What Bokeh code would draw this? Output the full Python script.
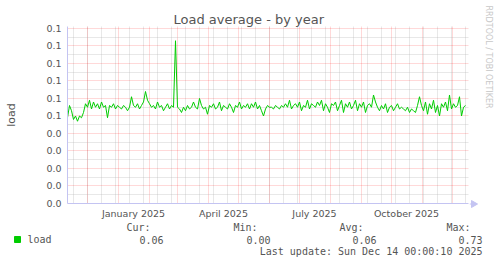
import math
import pandas as pd
from bokeh.plotting import figure
from bokeh.layouts import column, row
from bokeh.models import Range1d, FixedTicker
from bokeh.core.properties import value
from bokeh.embed import file_html
from bokeh.resources import INLINE

# ---------------- data ----------------
start_date = "2024-11-11"
# load average samples every 2 days, in thousandths
load_milli = [
    49, 56, 53, 48, 50, 47, 50, 49, 52,
    57, 55, 59, 54, 58,
    55, 57, 54, 58, 55, 56, 49, 56, 55, 57, 54, 56, 55, 54, 56, 55, 53, 55,
    61,
    56, 55, 57, 54, 56, 58,
    64, 59,
    57, 55, 56, 54, 58, 55, 56, 53, 55, 57, 54, 56, 55,
    93, 55,
    54, 52, 55, 53, 56, 54, 55, 58, 55, 54, 60,
    56, 54, 55, 51, 56, 55, 57, 54, 55, 58, 53, 56, 55, 54, 57, 55, 52, 56, 55, 58, 54, 56, 55, 57, 54,
    57, 55, 58, 54, 56, 53, 50,
    54, 56, 55, 55, 54, 56, 55, 54, 56, 55,
    57, 55, 59, 54, 56, 57, 55, 58, 53, 56, 55, 59, 54, 57, 56, 55, 58,
    56, 59, 53, 57, 55, 52, 57, 56,
    58, 53, 56, 59, 52, 57, 55, 58, 54, 56, 59, 53, 57, 55, 58, 52, 56, 57, 55,
    62,
    58, 55, 53, 56, 54, 57, 52, 55, 56, 53, 55, 57, 54, 55,
    54, 53, 55, 52, 54, 53, 52,
    56, 61,
    56, 53, 58, 51, 57, 54, 59, 52, 56, 50, 57, 55, 58, 53, 62, 54, 57, 55, 56, 61, 50, 55, 56,
]
dates = pd.date_range(start_date, periods=len(load_milli), freq="2D")
load = [v / 1000 for v in load_milli]

y_ticks = [0.00, 0.01, 0.02, 0.03, 0.04, 0.05, 0.06, 0.07, 0.08, 0.09, 0.10]
y_tick_labels = ["0.0", "0.0", "0.0", "0.0", "0.0", "0.1", "0.1", "0.1", "0.1", "0.1", "0.1"]
y_minor = [0.005, 0.015, 0.025, 0.035, 0.045, 0.055, 0.065, 0.075, 0.085, 0.095]

x_label_dates = ["2025-01-16", "2025-04-16", "2025-07-16", "2025-10-16"]
x_tick_labels = ["January 2025", "April 2025", "July 2025", "October 2025"]

stat_names = ["Cur:", "Min:", "Avg:", "Max:"]
stat_values = ["0.06", "0.00", "0.06", "0.73"]
series_name = "load"
last_update = "Last update: Sun Dec 14 00:00:10 2025"
title_text = "Load average - by year"
y_axis_title = "load"
watermark = "RRDTOOL / TOBI OETIKER"


def ms(d):
    return pd.Timestamp(d).value / 1e6


x_start = ms("2024-11-11")
x_end = ms("2025-12-17")
y_top = 0.10114

month_starts = [ms(d) for d in pd.date_range("2024-12-01", "2025-12-01", freq="MS")]
biweekly = [ms(d) for d in pd.date_range("2024-11-17", "2025-12-17", freq="14D")]

TXT = "#555555"
AXIS = "#c4c4f2"
GREEN = "#00cc00"

p = figure(width=469, height=222, x_axis_type="datetime",
           x_range=Range1d(x_start, x_end), y_range=Range1d(0, y_top),
           output_backend="svg", toolbar_location=None,
           min_border_left=67, min_border_right=1, min_border_top=26, min_border_bottom=19)
p.outline_line_color = None
p.background_fill_color = "white"
p.border_fill_color = "white"
p.frame_align = False

p.title.text = title_text
p.title.align = "left"
p.title.offset = 106
p.title.text_font = "DejaVu Sans"
p.title.text_font_size = "13px"
p.title.text_font_style = "normal"
p.title.text_color = TXT
p.title.standoff = 0

for ax in (p.xaxis[0], p.yaxis[0]):
    ax.axis_line_color = AXIS
    ax.major_tick_line_color = None
    ax.minor_tick_line_color = None
    ax.major_tick_out = 0
    ax.major_tick_in = 0
    ax.minor_tick_out = 0
    ax.minor_tick_in = 0
    ax.major_label_text_font = "DejaVu Sans"
    ax.major_label_text_font_size = "9.5px"
    ax.major_label_text_color = TXT

# x axis
xa = p.xaxis[0]
xa.ticker = FixedTicker(ticks=[ms(d) for d in x_label_dates])
xa.major_label_overrides = {ms(d): lab for d, lab in zip(x_label_dates, x_tick_labels)}
xa.major_label_standoff = 4

# y axis
ya = p.yaxis[0]
ya.ticker = FixedTicker(ticks=y_ticks, minor_ticks=y_minor)
ya.major_label_overrides = {t: lab for t, lab in zip(y_ticks, y_tick_labels)}
ya.major_label_standoff = 6
ya.axis_label = y_axis_title
ya.axis_label_text_font = "DejaVu Sans"
ya.axis_label_text_font_size = "11px"
ya.axis_label_text_font_style = "normal"
ya.axis_label_text_color = TXT
ya.axis_label_standoff = 25

# grids
p.xgrid.ticker = FixedTicker(ticks=month_starts, minor_ticks=biweekly)
p.ygrid.ticker = FixedTicker(ticks=y_ticks, minor_ticks=y_minor)
for g in (p.xgrid[0], p.ygrid[0]):
    g.grid_line_color = "#ff0000"
    g.grid_line_alpha = 0.3
    g.grid_line_dash = "1 1"
    g.minor_grid_line_color = "#b0b0b0"
    g.minor_grid_line_alpha = 0.6
    g.minor_grid_line_dash = "1 1"

p.line(x=dates, y=load, line_color=GREEN, line_width=1)

# ---------------- right strip: axis arrow + watermark ----------------
side = figure(width=28, height=222, x_range=Range1d(469, 497), y_range=Range1d(222, 0),
              output_backend="svg", toolbar_location=None, min_border=0,
              x_axis_location=None, y_axis_location=None)
side.outline_line_color = None
side.grid.visible = False
side.frame_align = False
side.segment(x0=[469], y0=[203.5], x1=[471], y1=[203.5], line_color=AXIS, line_width=1)
side.scatter(x=[473], y=[203.5], marker="triangle", size=7, angle=-math.pi / 2,
             fill_color=AXIS, line_color=AXIS)
side.text(x=[488], y=[5], text=[watermark], angle=-math.pi / 2, text_align="left",
          text_baseline="middle", text_font=value("DejaVu Sans"), text_font_size="8px",
          text_color="#c8c8c8")

# ---------------- legend ----------------
lg = figure(width=497, height=42, x_range=Range1d(0, 497), y_range=Range1d(42, 0),
            output_backend="svg", toolbar_location=None, min_border=0,
            x_axis_location=None, y_axis_location=None)
lg.outline_line_color = None
lg.grid.visible = False
lg.frame_align = False

MONO = value("DejaVu Sans Mono")
lg.rect(x=[17], y=[17], width=6, height=6, fill_color=GREEN, line_color=GREEN)
lg.text(x=[27], y=[17], text=[series_name], text_align="left", text_baseline="middle",
        text_font=MONO, text_font_size="10px", text_color=TXT)
lg.text(x=[150, 257, 363, 470], y=[5] * 4, text=stat_names, text_align="right",
        text_baseline="middle", text_font=MONO, text_font_size="10px", text_color=TXT)
lg.text(x=[163, 270, 376, 482], y=[17] * 4, text=stat_values, text_align="right",
        text_baseline="middle", text_font=MONO, text_font_size="10px", text_color=TXT)
lg.text(x=[482], y=[29], text=[last_update], text_align="right",
        text_baseline="middle", text_font=MONO, text_font_size="10px", text_color=TXT)

layout = column(row(p, side, spacing=0), lg, spacing=0)
open("out.html", "w").write(file_html(layout, INLINE))
